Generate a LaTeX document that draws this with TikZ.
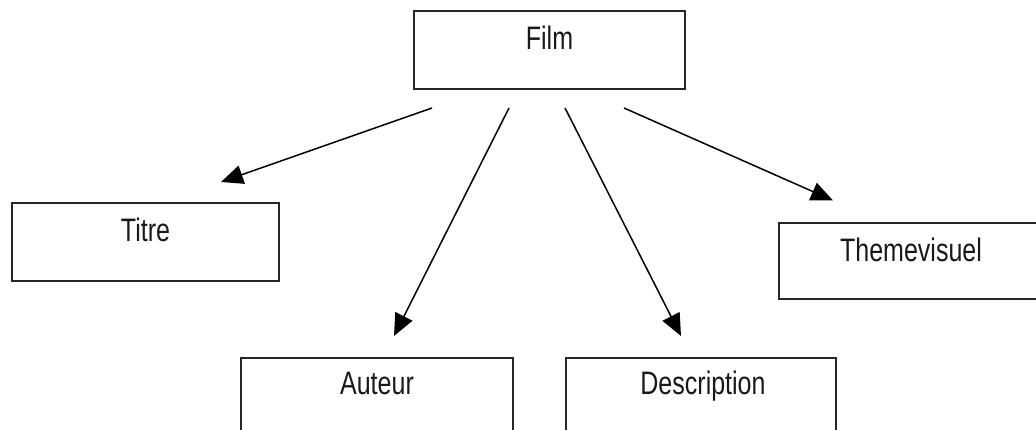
\documentclass[tikz,border=0pt]{standalone}
\usepackage{fontspec}
\setmainfont{Liberation Sans}[FakeStretch=0.77]
\usetikzlibrary{arrows.meta}
\begin{document}
\begin{tikzpicture}[x=1pt,y=1pt,
  box/.style={draw=black!85, line width=2pt, minimum height=78pt, inner sep=0pt},
  lbl/.style={anchor=base, font=\fontsize{32.5}{38}\selectfont, text=black!90},
  arr/.style={line width=1.5pt, -{Triangle[length=22pt,width=19pt]}}]
\clip (0,0) rectangle (1036,430);
\useasboundingbox (0,0) rectangle (1036,430);
% boxes
\node[box, minimum width=271pt] (film) at (549.5,380) {};
\node[box, minimum width=267pt] (titre) at (145.5,188) {};
\node[box, minimum width=264pt, minimum height=76pt] (theme) at (911,168.5) {};
\node[box, minimum width=272pt] (auteur) at (377,33) {};
\node[box, minimum width=270pt] (desc) at (701,33) {};
% labels, set on a common baseline below each top edge
\node[lbl] (filmtxt)  at ([yshift=-40pt]film.north) {Film};
\node[lbl] (titretxt) at ([yshift=-40pt]titre.north) {Titre};
\node[lbl] (themetxt) at ([yshift=-39pt]theme.north) {Themevisuel};
\node[lbl] (auteurtxt) at ([yshift=-38pt]auteur.north) {Auteur};
\node[lbl] (desctxt)  at ([shift={(2pt,-38pt)}]desc.north) {Description};
% connectors
\draw[arr] ([shift={(19,-18)}]film.south west) -- ([shift={(210,20)}]titre.north west);
\draw[arr] ([shift={(96,-18)}]film.south west) -- ([shift={(154,21)}]auteur.north west);
\draw[arr] ([shift={(152,-18)}]film.south west) -- ([shift={(116,21)}]desc.north west);
\draw[arr] ([shift={(211,-18)}]film.south west) -- ([shift={(55,22)}]theme.north west);
\end{tikzpicture}
\end{document}
